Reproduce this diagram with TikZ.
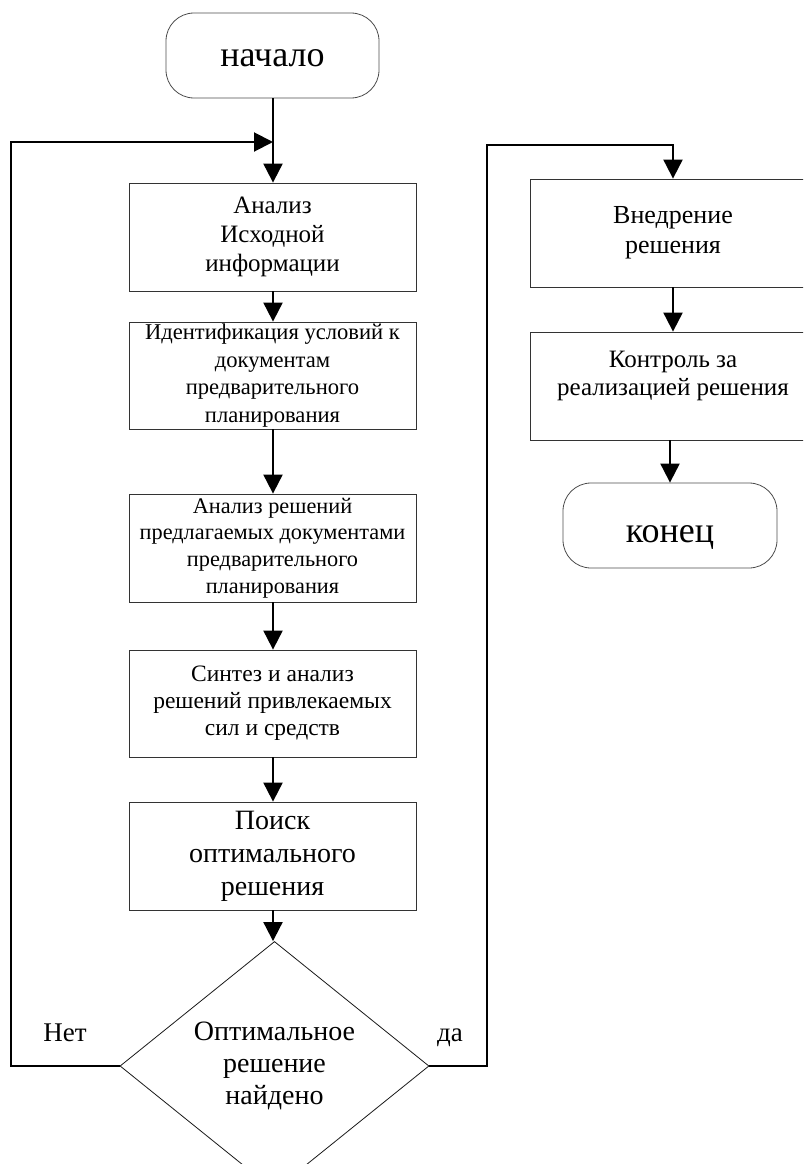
\documentclass[tikz,border=0pt]{standalone}
\usepackage{fontspec}
\setmainfont{Liberation Serif}
\usetikzlibrary{shapes.geometric, arrows.meta}

\tikzset{
    box/.style={draw=black!80, line width=0.8pt, rectangle, minimum width=287pt, minimum height=108pt, inner sep=0pt, align=center},
    term/.style={draw=black!70, line width=0.8pt, rectangle, rounded corners=28pt, minimum width=213pt, minimum height=85pt, inner sep=0pt, font=\fontsize{36}{41}\selectfont},
    decision/.style={draw=black!90, line width=0.8pt, diamond, minimum width=309pt, minimum height=214pt, inner sep=0pt, align=center, font=\fontsize{28}{32}\selectfont},
    arr/.style={line width=2pt, -{Triangle[length=19pt, width=19pt]}}
}

\begin{document}
\begin{tikzpicture}[x=1pt, y=-1pt]
        \clip (0,0) rectangle (803,1164);

        % Start and left column
        \node[term] (start) at (272.5,55.5) {\raisebox{-11pt}[0pt][0pt]{начало}};
        \node[box, font=\fontsize{25}{29}\selectfont] (info) at (272.5,237) {Анализ\\Исходной\\информации};
        \node[box, minimum height=107pt, font=\fontsize{22.6}{27.5}\selectfont] (ident) at (272.5,375.5) {Идентификация условий к\\документам\\предварительного\\планирования};
        \node[box, font=\fontsize{22.3}{26.8}\selectfont] (docs) at (272.5,548) {Анализ решений\\предлагаемых документами\\предварительного\\планирования};
        \node[box, minimum height=107pt, font=\fontsize{23.5}{27}\selectfont] (synth) at (272.5,703.5) {Синтез и анализ\\решений привлекаемых\\сил и средств};
        \node[box, font=\fontsize{28}{33}\selectfont] (search) at (272.5,856) {Поиск\\оптимального\\решения};
        \node[decision] (found) at (274.5,1066) {Оптимальное\\решение\\найдено};

        % Right column
        \node[box, minimum width=286pt, font=\fontsize{26}{30}\selectfont] (apply) at (673,233) {Внедрение\\решения};
        \node[box, minimum width=286pt, font=\fontsize{25}{28.5}\selectfont] (check) at (673,386) {\raisebox{4pt}[0pt][0pt]{\begin{tabular}{@{}c@{}}Контроль за\\реализацией решения\end{tabular}}};
        \node[term, minimum width=214pt] (finish) at (670,525.5) {\raisebox{-16.5pt}[0pt][0pt]{конец}};

        % Labels
        \node[font=\fontsize{27}{30}\selectfont] (no) at (65,1033) {Нет};
        \node[font=\fontsize{27}{30}\selectfont] (yes) at (450,1038) {да};

        % Connectors
        \coordinate (join) at (273,142);
        \coordinate (nw) at (11,142);
        \coordinate (ne) at (487,145);
        \coordinate (ne2) at (673,145);
        \draw[arr] (start.south -| join) -- (info.north -| join);
        \draw[arr] (info.south -| join) -- (ident.north -| join);
        \draw[arr] (ident.south -| join) -- (docs.north -| join);
        \draw[arr] (docs.south -| join) -- (synth.north -| join);
        \draw[arr] (synth.south -| join) -- (search.north -| join);
        \draw[arr] (search.south -| join) -- (found.north -| join);
        \draw[arr] (found.west) -| (nw) -- (join);
        \draw[arr] (found.east) -| (ne) -- (ne2) -- (apply.north);
        \draw[arr] (apply.south) -- (check.north);
        \draw[arr] (check.south -| finish) -- (finish.north);
    \end{tikzpicture}
\end{document}
